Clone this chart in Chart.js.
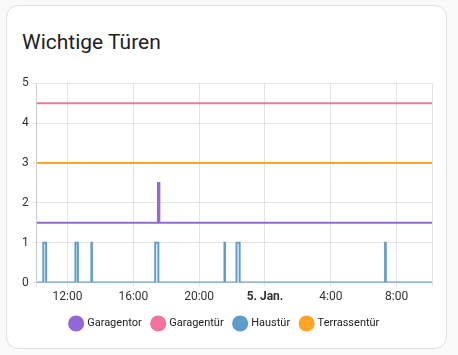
<!DOCTYPE html>
<html>
<head>
<meta charset="utf-8">
<script src="https://cdn.jsdelivr.net/npm/chart.js@4/dist/chart.umd.min.js"></script>
<style>
  html, body { margin: 0; padding: 0; background: #fafafa; }
  body { width: 458px; height: 355px; position: relative; overflow: hidden; font-family: Roboto, sans-serif; }
  .card {
    position: absolute; left: 6px; top: 5px; width: 439px; height: 342px;
    background: #fff; border: 1px solid #e0e0e0; border-radius: 12px;
  }
  .card h1 {
    position: absolute; left: 15px; top: 24px; margin: 0;
    font-size: 21px; font-weight: 400; color: #212121;
  }
  .chart-box { position: absolute; left: 11px; top: 66px; width: 420px; height: 267px; }
</style>
</head>
<body>
<div class="card">
  <h1>Wichtige Türen</h1>
  <div class="chart-box"><canvas id="history"></canvas></div>
</div>
<script>
// time window in hours since 4. Jan 00:00
const windowStart = 10.13;
const windowEnd = 34.15;

const seriesNames = ['Garagentor', 'Garagentür', 'Haustür', 'Terrassentür'];
const seriesColors = ['#9568d8', '#f2749c', '#5e9ccb', '#ffa425'];

// closed / open level of every entity in the chart
const closedLevel = [1.5, 4.5, 0, 3];
const openLevel = [2.5, 5.5, 1, 4];

// opening and closing times (hours)
const garagentorOpen = [17.50];
const garagentorClose = [17.58];
const garagentuerOpen = [];
const garagentuerClose = [];
const haustuerOpen = [10.53, 12.48, 13.45, 17.33, 21.54, 22.27, 31.30];
const haustuerClose = [10.70, 12.63, 13.48, 17.52, 21.57, 22.46, 31.34];
const terrassentuerOpen = [];
const terrassentuerClose = [];

const openTimes = [garagentorOpen, garagentuerOpen, haustuerOpen, terrassentuerOpen];
const closeTimes = [garagentorClose, garagentuerClose, haustuerClose, terrassentuerClose];

const yTicks = [0, 1, 2, 3, 4, 5];

function buildPoints(i) {
  const pts = [{ x: windowStart, y: closedLevel[i] }];
  openTimes[i].forEach((t, k) => {
    pts.push({ x: t, y: openLevel[i] });
    pts.push({ x: closeTimes[i][k], y: closedLevel[i] });
  });
  pts.push({ x: windowEnd, y: closedLevel[i] });
  return pts;
}

function tickLabel(v) {
  if (Math.abs(v % 4) > 0.001) return '';
  if (v === 24) return '5. Jan.';
  return (v % 24) + ':00';
}

const ctx = document.getElementById('history').getContext('2d');
const historyChart = new Chart(ctx, {
  type: 'line',
  data: {
    datasets: seriesNames.map((name, i) => ({
      label: name,
      data: buildPoints(i),
      borderColor: seriesColors[i],
      backgroundColor: seriesColors[i],
      borderWidth: 2,
      pointRadius: 0,
      stepped: true,
      fill: false
    }))
  },
  options: {
    responsive: true,
    maintainAspectRatio: false,
    animation: false,
    layout: { padding: { left: 0, right: 6, top: 8 } },
    scales: {
      x: {
        type: 'linear',
        min: windowStart,
        max: windowEnd,
        afterBuildTicks: axis => {
          const t = [{ value: windowStart }];
          for (let h = 12; h < windowEnd; h += 4) t.push({ value: h });
          t.push({ value: windowEnd });
          axis.ticks = t;
        },
        ticks: {
          autoSkip: false,
          maxRotation: 0,
          color: '#333',
          font: c => ({ family: 'Roboto', size: 12, weight: c.tick && c.tick.value === 24 ? 'bold' : 'normal' }),
          callback: v => tickLabel(v)
        },
        grid: { color: 'rgba(0,0,0,0.1)', tickLength: 4 },
        border: { color: 'rgba(0,0,0,0.1)' }
      },
      y: {
        min: 0,
        max: 5,
        afterBuildTicks: axis => { axis.ticks = yTicks.map(v => ({ value: v })); },
        ticks: { color: '#333', font: { family: 'Roboto', size: 12 }, padding: 4 },
        grid: { color: 'rgba(0,0,0,0.1)', tickLength: 4 },
        border: { color: 'rgba(0,0,0,0.1)' }
      }
    },
    plugins: {
      tooltip: { enabled: false },
      legend: {
        position: 'bottom',
        labels: {
          usePointStyle: true,
          pointStyle: 'circle',
          boxWidth: 12,
          boxHeight: 10,
          padding: 11,
          color: '#212121',
          font: { family: 'Roboto', size: 11 }
        }
      }
    }
  }
});
</script>
</body>
</html>
